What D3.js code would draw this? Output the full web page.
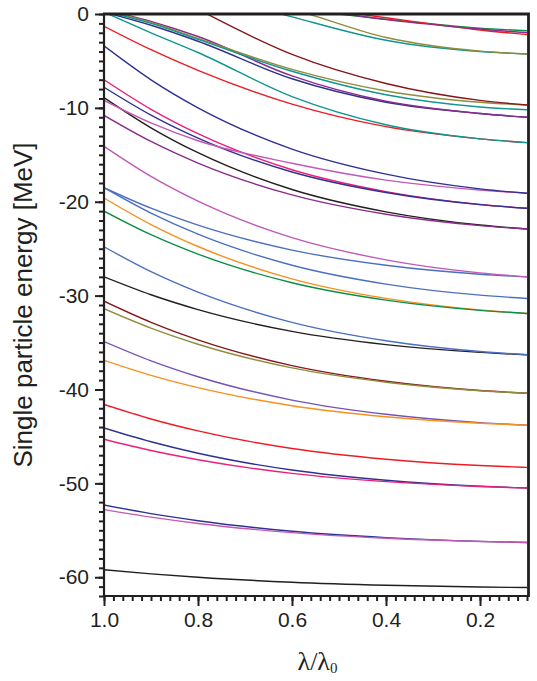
<!DOCTYPE html>
<html>
<head>
<meta charset="utf-8">
<script src="https://cdn.jsdelivr.net/npm/d3@7"></script>
<style>
  body { margin: 0; background: #fff; }
  text { font-family: Arial, "Liberation Sans", sans-serif; fill: #231f20; }
</style>
</head>
<body>
<div class="chart"></div>
<script>
const WIDTH = 537;
const HEIGHT = 681;
const MARGIN = {TOP: 14, BOTTOM: 85, RIGHT: 10, LEFT: 104};
const innerWidth = WIDTH - MARGIN.LEFT - MARGIN.RIGHT;
const innerHeight = HEIGHT - MARGIN.TOP - MARGIN.BOTTOM;

// deformation parameter lambda/lambda0 where energies were read
const lambdaVals = [1.0, 0.9, 0.8, 0.6, 0.4, 0.2, 0.1];

// single particle energies (MeV), one row per level
const energyLevels = [
  [-59.2, -59.64, -60.0, -60.53, -60.85, -61.04, -61.1],
  [-52.3, -53.22, -53.98, -55.1, -55.78, -56.18, -56.3],
  [-52.8, -53.6, -54.27, -55.25, -55.85, -56.2, -56.3],
  [-44.1, -45.57, -46.79, -48.58, -49.67, -50.31, -50.5],
  [-45.3, -46.5, -47.48, -48.94, -49.82, -50.34, -50.5],
  [-41.6, -43.14, -44.41, -46.29, -47.43, -48.1, -48.3],
  [-34.9, -36.95, -38.64, -41.13, -42.64, -43.53, -43.8],
  [-36.9, -38.49, -39.8, -41.73, -42.9, -43.59, -43.8],
  [-30.6, -32.85, -34.72, -37.46, -39.13, -40.11, -40.4],
  [-31.4, -33.47, -35.18, -37.7, -39.23, -40.13, -40.4],
  [-28.0, -29.91, -31.49, -33.81, -35.22, -36.05, -36.3],
  [-24.8, -27.45, -29.63, -32.85, -34.81, -35.96, -36.3],
  [-19.6, -22.43, -24.77, -28.21, -30.3, -31.53, -31.9],
  [-21.0, -23.51, -25.58, -28.63, -30.48, -31.57, -31.9],
  [-18.5, -21.21, -23.46, -26.76, -28.77, -29.95, -30.3],
  [-18.5, -20.69, -22.49, -25.15, -26.77, -27.72, -28.0],
  [-14.1, -17.3, -19.94, -23.83, -26.19, -27.58, -28.0],
  [-8.9, -12.12, -14.78, -18.7, -21.08, -22.48, -22.9],
  [-10.8, -13.58, -15.88, -19.27, -21.33, -22.54, -22.9],
  [-7.0, -10.15, -12.75, -16.59, -18.92, -20.29, -20.7],
  [-7.8, -10.77, -13.22, -16.83, -19.02, -20.31, -20.7],
  [-9.2, -11.6, -13.5, -15.9, -17.7, -18.75, -19.1],
  [-3.4, -7.01, -9.99, -14.39, -17.06, -18.63, -19.1],
  [-1.3, -3.8, -6.0, -9.6, -12.0, -13.3, -13.7],
  [0.2, -2.0, -4.1, -8.8, -11.8, -13.3, -13.7],
  [0.2, -1.2, -2.9, -6.9, -9.4, -10.6, -11.0],
  [0.5, -0.8, -2.4, -6.6, -9.3, -10.6, -11.0],
  [0.4, -0.9, -2.6, -5.9, -8.2, -9.4, -9.7],
  [0.3, -1.0, -2.7, -6.1, -8.6, -9.9, -10.2],
  [6.0, 3.2, 0.5, -4.3, -7.4, -9.2, -9.7],
  [5.0, 3.7, 2.5, -0.3, -2.8, -4.0, -4.26],
  [5.5, 4.0, 2.6, 0.5, -2.5, -3.95, -4.26],
  [4.0, 3.1, 2.2, 0.6, -0.55, -1.5, -1.78],
  [4.5, 3.5, 2.6, 1.0, -0.4, -1.7, -2.2],
  [4.0, 3.1, 2.2, 0.8, -0.6, -1.6, -2.0]
];

const levelColors = [
  '#231f20', '#2e3192', '#c259b5', '#2e3192', '#ec1e79', '#ed1c24',
  '#7453b5', '#f7901e', '#861719', '#8f8c3c', '#231f20', '#4c6fc1',
  '#f7901e', '#0c8e48', '#4c6fc1', '#4c6fc1', '#c259b5', '#231f20',
  '#8a2c8c', '#ec1e79', '#2e3192', '#c259b5', '#2e3192', '#ed1c24',
  '#10958f', '#2e3192', '#8a2c8c', '#8f8c3c', '#10958f', '#861719',
  '#10958f', '#8f8c3c', '#0c8e48', '#ed1c24', '#8a2c8c'
];

const xMajor = [1.0, 0.8, 0.6, 0.4, 0.2];
const yMajor = [0, -10, -20, -30, -40, -50, -60];

var xScale = d3.scaleLinear().range([0, innerWidth]).domain([1.0, 0.1]);
var yScale = d3.scaleLinear().range([innerHeight, 0]).domain([-62, 0]);

var svg = d3.select('.chart').append('svg')
    .attr('width', WIDTH)
    .attr('height', HEIGHT);

var mainGroup = svg.append('g')
    .attr('transform', 'translate(' + MARGIN.LEFT + ',' + MARGIN.TOP + ')');

mainGroup.append('clipPath').attr('id', 'plotClip')
  .append('rect')
    .attr('width', innerWidth)
    .attr('height', innerHeight);

var line = d3.line()
    .x(function (d) { return xScale(d[0]); })
    .y(function (d) { return yScale(d[1]); })
    .curve(d3.curveMonotoneX);

mainGroup.append('g')
    .attr('clip-path', 'url(#plotClip)')
  .selectAll('path')
  .data(energyLevels)
  .enter().append('path')
    .attr('d', function (row) { return line(row.map(function (e, i) { return [lambdaVals[i], e]; })); })
    .attr('fill', 'none')
    .attr('stroke', function (row, i) { return levelColors[i]; })
    .attr('stroke-width', 1.4);

// minor ticks: every 0.02 on x, every 1 MeV on y
var xMinor = d3.range(5, 51).map(function (v) { return v / 50; });
var yMinor = d3.range(-62, 1);

var xMinorG = mainGroup.append('g')
    .attr('transform', 'translate(0,' + innerHeight + ')')
    .call(d3.axisBottom(xScale).tickValues(xMinor).tickSize(5).tickFormat(''));
var yMinorG = mainGroup.append('g')
    .call(d3.axisLeft(yScale).tickValues(yMinor).tickSize(5).tickFormat(''));
xMinorG.selectAll('text').remove();
yMinorG.selectAll('text').remove();

var xAxisG = mainGroup.append('g')
    .attr('transform', 'translate(0,' + innerHeight + ')')
    .call(d3.axisBottom(xScale).tickValues(xMajor).tickSize(10).tickPadding(6)
      .tickFormat(function (d) { return d.toFixed(1); }));
var yAxisG = mainGroup.append('g')
    .call(d3.axisLeft(yScale).tickValues(yMajor).tickSize(9).tickPadding(6)
      .tickFormat(function (d) { return String(d); }));

mainGroup.selectAll('.domain').remove();
mainGroup.selectAll('.tick line')
    .attr('stroke', '#231f20')
    .attr('stroke-width', 2);
mainGroup.selectAll('.tick text')
    .style('font-size', '21px')
    .attr('fill', '#231f20');

// frame
mainGroup.append('path')
    .attr('d', 'M0,' + (innerHeight + 1) + 'V-1')
    .attr('stroke', '#231f20').attr('stroke-width', 2.2);
mainGroup.append('path')
    .attr('d', 'M-1,' + innerHeight + 'H' + (innerWidth + 1.5))
    .attr('stroke', '#231f20').attr('stroke-width', 2.2);
mainGroup.append('path')
    .attr('d', 'M-1,0H' + (innerWidth + 1.5) + 'V' + (innerHeight + 1))
    .attr('fill', 'none')
    .attr('stroke', '#231f20').attr('stroke-width', 2.8);

// axis titles
svg.append('text')
    .attr('transform', 'translate(32,' + (MARGIN.TOP + innerHeight / 2) + ') rotate(-90)')
    .attr('text-anchor', 'middle')
    .style('font-size', '26px')
    .text('Single particle energy [MeV]');

var xTitle = svg.append('text')
    .attr('x', MARGIN.LEFT + innerWidth / 2 + 2)
    .attr('y', 670)
    .attr('text-anchor', 'middle')
    .style('font-family', '"Liberation Serif", "DejaVu Serif", serif')
    .style('font-size', '26px');
xTitle.append('tspan').text('λ/λ');
xTitle.append('tspan').attr('dy', 3).style('font-size', '15px').text('0');
</script>
</body>
</html>
